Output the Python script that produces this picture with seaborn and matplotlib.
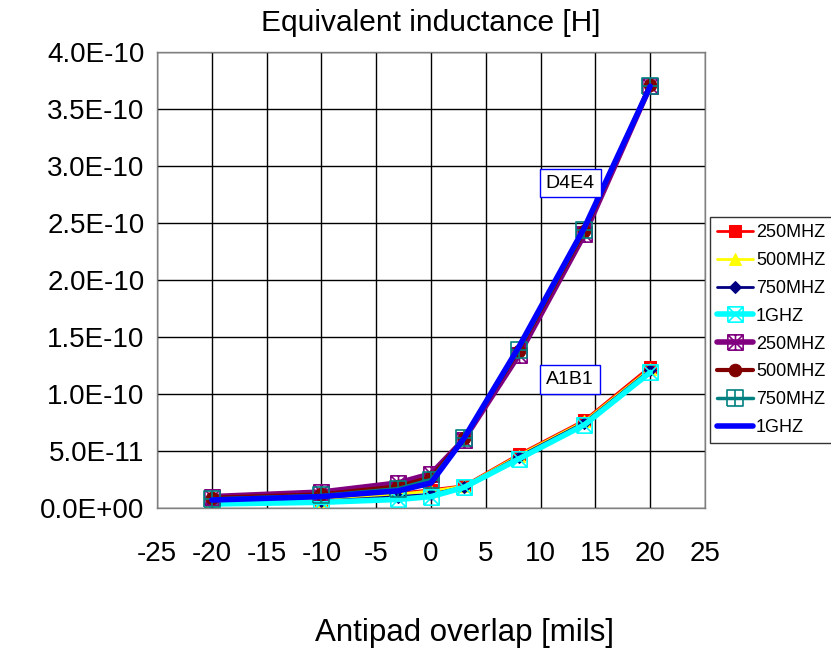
import numpy as np
import pandas as pd
import matplotlib
matplotlib.use("Agg")
import matplotlib.pyplot as plt
from matplotlib.path import Path
from matplotlib.ticker import FuncFormatter, MultipleLocator
import seaborn as sns

# ---- data ----
overlap = [-20, -10, -3, 0, 3, 8, 14, 20]
a1b1_250 = [5.0e-12, 6.5e-12, 1.3e-11, 1.6e-11, 1.95e-11, 4.7e-11, 7.7e-11, 1.24e-10]
a1b1_500 = [5.0e-12, 6.5e-12, 1.2e-11, 1.5e-11, 1.9e-11, 4.6e-11, 7.6e-11, 1.22e-10]
a1b1_750 = [4.0e-12, 6.0e-12, 1.0e-11, 1.2e-11, 1.85e-11, 4.5e-11, 7.5e-11, 1.21e-10]
a1b1_1g = [3.5e-12, 5.0e-12, 7.5e-12, 1.0e-11, 1.8e-11, 4.3e-11, 7.3e-11, 1.19e-10]
d4e4_250 = [1.0e-11, 1.4e-11, 2.2e-11, 3.0e-11, 6.0e-11, 1.34e-10, 2.4e-10, 3.70e-10]
d4e4_500 = [9.0e-12, 1.2e-11, 1.9e-11, 2.7e-11, 6.1e-11, 1.38e-10, 2.43e-10, 3.71e-10]
d4e4_750 = [8.0e-12, 1.1e-11, 1.7e-11, 2.5e-11, 6.1e-11, 1.39e-10, 2.44e-10, 3.70e-10]
d4e4_1g = [7.0e-12, 1.0e-11, 1.5e-11, 2.2e-11, 6.1e-11, 1.41e-10, 2.46e-10, 3.70e-10]
labels = ["250MHZ", "500MHZ", "750MHZ", "1GHZ", "250MHZ", "500MHZ", "750MHZ", "1GHZ"]
series = [a1b1_250, a1b1_500, a1b1_750, a1b1_1g, d4e4_250, d4e4_500, d4e4_750, d4e4_1g]

# ---- custom markers ----
sq = [(-1, -1), (1, -1), (1, 1), (-1, 1), (-1, -1)]
def compound(*segs):
    verts, codes = [], []
    for s in segs:
        verts += s
        codes += [Path.MOVETO] + [Path.LINETO] * (len(s) - 1)
    return Path(verts, codes)
box_x = compound(sq, [(-1, -1), (1, 1)], [(-1, 1), (1, -1)])
box_star = compound(sq, [(-1, -1), (1, 1)], [(-1, 1), (1, -1)], [(0, -1), (0, 1)])
box_plus = compound(sq, [(0, -1), (0, 1)], [(-1, 0), (1, 0)])

styles = [
    dict(color="#ff0000", marker="s", ms=8, lw=2.0, mfc="#ff0000", mec="#ff0000"),
    dict(color="#ffff00", marker="^", ms=8, lw=2.0, mfc="#ffff00", mec="#ffff00"),
    dict(color="#000080", marker="D", ms=6, lw=2.0, mfc="#000080", mec="#000080"),
    dict(color="#00ffff", marker=box_x, ms=11, lw=4.0, mfc="none", mec="#00ffff", mew=1.2),
    dict(color="#800080", marker=box_star, ms=11, lw=4.0, mfc="none", mec="#800080", mew=1.2),
    dict(color="#800000", marker="o", ms=9, lw=3.0, mfc="#800000", mec="#800000"),
    dict(color="#008080", marker=box_plus, ms=11, lw=2.5, mfc="none", mec="#008080", mew=1.2),
    dict(color="#0000ff", marker=None, ms=0, lw=4.0),
]

sns.set_style("white")
plt.rcParams["font.family"] = ["Liberation Sans", "DejaVu Sans"]
plt.rcParams["axes.unicode_minus"] = False
plt.rcParams["text.color"] = "black"

fig = plt.figure(figsize=(8.31, 6.51), dpi=100)
ax = fig.add_axes([157 / 831, 1 - 508 / 651, 548 / 831, 456 / 651])

for y, lab, st in zip(series, labels, styles):
    df = pd.DataFrame({"x": overlap, "y": y})
    kw = dict(color=st["color"], linewidth=st["lw"], label=lab)
    if st["marker"] is not None:
        kw.update(marker=st["marker"], markersize=st["ms"], markerfacecolor=st["mfc"],
                  markeredgecolor=st["mec"])
        if "mew" in st:
            kw["markeredgewidth"] = st["mew"]
    sns.lineplot(data=df, x="x", y="y", ax=ax, legend=False, **kw)

ax.set_xlim(-25, 25)
ax.set_ylim(0, 4.0e-10)
ax.xaxis.set_major_locator(MultipleLocator(5))
ax.yaxis.set_major_locator(MultipleLocator(5e-11))
ax.yaxis.set_major_formatter(FuncFormatter(lambda v, p: f"{v:.1E}"))
ax.yaxis.get_offset_text().set_visible(False)
ax.grid(True, color="black", linewidth=1.0)
for s in ax.spines.values():
    s.set_color("#808080")
    s.set_linewidth(1.0)
ax.tick_params(axis="both", labelsize=20, length=0, labelcolor="black")
ax.tick_params(axis="x", pad=24)
ax.tick_params(axis="y", pad=9)
ax.set_xlabel("Antipad overlap [mils]", fontsize=22.5, color="black")
ax.xaxis.set_label_coords(0.562, -0.274)
ax.xaxis.label.set_va("center")
ax.set_ylabel("")
ax.set_title("Equivalent inductance [H]", fontsize=21.5, pad=15, color="black")

box = dict(boxstyle="square,pad=0.3", facecolor="white", edgecolor="#0000ff", linewidth=1)
ax.text(12.7, 2.85e-10, "D4E4", fontsize=14, ha="center", va="center", bbox=box)
ax.text(12.7, 1.13e-10, "A1B1", fontsize=14, ha="center", va="center", bbox=box)

handles = ax.get_lines()[:8]
leg = fig.legend(handles=handles, labels=labels, loc="upper left",
                 bbox_to_anchor=(710 / 831, 1 - 217 / 651), fontsize=13,
                 frameon=True, fancybox=False, edgecolor="black", handlelength=2.0,
                 labelspacing=0.6, borderpad=0.4, handletextpad=0.15, borderaxespad=0)
leg.get_frame().set_linewidth(1.0)

fig.savefig("out.png", dpi=100)
